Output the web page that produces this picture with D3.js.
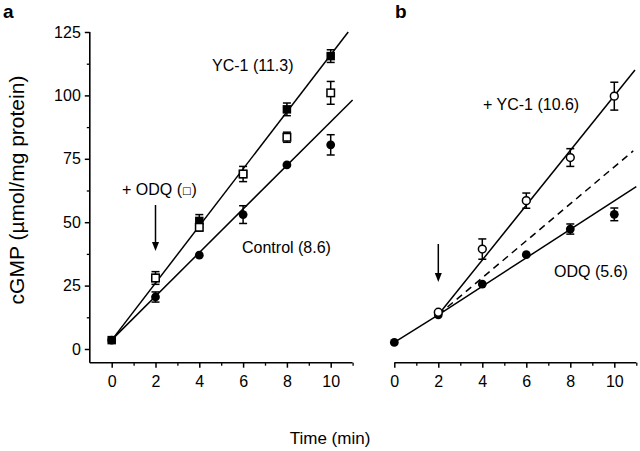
<!DOCTYPE html>
<html><head><meta charset="utf-8">
<script src="https://cdn.jsdelivr.net/npm/d3@7"></script>
<style>body{margin:0;background:#fff}svg{display:block}text{font-family:"Liberation Sans",Arial,sans-serif;fill:#000}</style>
</head><body><svg id="c" width="640" height="451"></svg>
<script>
// ---------- data ----------
const yTicks = [0, 25, 50, 75, 100, 125];
const yMinorTicks = [12.5, 37.5, 62.5, 87.5, 112.5];
const xTicks = [0, 2, 4, 6, 8, 10];
const xMinorTicks = [1, 3, 5, 7, 9, 11];

// panel a
const controlA_t = [0, 2, 4, 6, 8, 10];
const controlA_v = [3.5, 20.5, 37, 53, 72.6, 80.5];
const controlA_e = [0, 2, 0, 3.5, 0, 4];
const yc1A_t = [0, 2, 4, 6, 8, 10];
const yc1A_v = [3.5, 28, 50.5, 69, 94.5, 115.5];
const yc1A_e = [0, 0, 2.5, 0, 2.5, 2.5];
const odqA_t = [2, 4, 6, 8, 10];
const odqA_v = [28, 48, 69, 83.5, 101];
const odqA_e = [2.5, 1.5, 3, 2, 4.5];
const fitYc1A = [[0, 3.5], [10.8, 125]];
const fitControlA = [[0, 3.6], [11, 98.2]];

// panel b
const odqB_t = [0, 2, 4, 6, 8, 10];
const odqB_v = [2.6, 13.5, 25.6, 37.2, 47.3, 53.1];
const odqB_e = [0, 0, 0, 0, 2, 2.5];
const yc1B_t = [2, 4, 6, 8, 10];
const yc1B_v = [14.5, 39.4, 58.5, 75.5, 99.7];
const yc1B_e = [0, 4, 3, 3.5, 5.5];
const fitBaseB = [[0, 2.6], [2, 13.5]];
const fitYc1B = [[2, 13.5], [10.94, 110]];
const fitOdqB = [[2, 13.5], [11, 64]];
const fitDashB = [[2, 13.5], [10.86, 78.1]];

// ---------- scales ----------
const svg = d3.select("#c");
const y = d3.scaleLinear().domain([0, 125]).range([349, 32]);
const yBottom = -5.4;
const xA = d3.scaleLinear().domain([-1, 11]).range([89.8, 352.6]);
const xB = d3.scaleLinear().domain([0, 11]).range([394.3, 636.3]);
const axisY = y(yBottom);

// ---------- axes ----------
function xAxis(x, tickStart) {
  const g = svg.append("g").attr("transform", `translate(0,${axisY})`);
  g.call(d3.axisBottom(x).tickValues(xTicks).tickSize(5).tickPadding(8).tickFormat(d3.format("d")))
   .call(s => s.select(".domain").remove());
  g.selectAll(".tick line").attr("stroke", "#000").attr("stroke-width", 1.5);
  g.selectAll(".tick text").attr("font-size", 16).attr("font-family", "Liberation Sans, Arial, sans-serif");
  const gm = svg.append("g").attr("transform", `translate(0,${axisY})`);
  gm.call(d3.axisBottom(x).tickValues(xMinorTicks).tickSize(3).tickFormat(""))
    .call(s => s.select(".domain").remove());
  gm.selectAll(".tick line").attr("stroke", "#000").attr("stroke-width", 1.3);
  svg.append("line").attr("x1", x(tickStart)).attr("x2", x.range()[1])
     .attr("y1", axisY).attr("y2", axisY).attr("stroke", "#000").attr("stroke-width", 1.6);
}
xAxis(xA, -1);
xAxis(xB, 0);

const ya = svg.append("g").attr("transform", `translate(${xA.range()[0]},0)`);
ya.call(d3.axisLeft(y).tickValues(yTicks).tickSize(5).tickPadding(4))
  .call(s => s.select(".domain").remove());
ya.selectAll(".tick line").attr("stroke", "#000").attr("stroke-width", 1.5);
ya.selectAll(".tick text").attr("font-size", 16).attr("font-family", "Liberation Sans, Arial, sans-serif");
const yam = svg.append("g").attr("transform", `translate(${xA.range()[0]},0)`);
yam.call(d3.axisLeft(y).tickValues(yMinorTicks).tickSize(3).tickFormat(""))
   .call(s => s.select(".domain").remove());
yam.selectAll(".tick line").attr("stroke", "#000").attr("stroke-width", 1.3);
svg.append("line").attr("x1", xA.range()[0]).attr("x2", xA.range()[0])
   .attr("y1", y(125)).attr("y2", axisY).attr("stroke", "#000").attr("stroke-width", 1.6);

// ---------- fit lines ----------
function fit(x, pts, dash) {
  svg.append("path").datum(pts)
    .attr("d", d3.line().x(d => x(d[0])).y(d => y(d[1])))
    .attr("fill", "none").attr("stroke", "#000").attr("stroke-width", 1.5)
    .attr("stroke-dasharray", dash ? "7,5" : null);
}
fit(xA, fitYc1A); fit(xA, fitControlA);
fit(xB, fitBaseB); fit(xB, fitYc1B); fit(xB, fitOdqB); fit(xB, fitDashB, true);

// ---------- points ----------
function series(x, ts, vs, es, shape, filled) {
  const g = svg.append("g");
  ts.forEach((t, i) => {
    const cx = x(t), cy = y(vs[i]), e = es[i];
    if (e > 0) {
      const y1 = y(vs[i] + e), y2 = y(vs[i] - e);
      g.append("line").attr("x1", cx).attr("x2", cx).attr("y1", y1).attr("y2", y2).attr("stroke", "#000").attr("stroke-width", 1.5);
      [y1, y2].forEach(yy => g.append("line").attr("x1", cx - 4).attr("x2", cx + 4).attr("y1", yy).attr("y2", yy).attr("stroke", "#000").attr("stroke-width", 1.5));
    }
    if (shape === "square") {
      const s = filled ? 8.5 : 7.5;
      g.append("rect").attr("x", cx - s / 2).attr("y", cy - s / 2).attr("width", s).attr("height", s)
        .attr("fill", filled ? "#000" : "#fff").attr("stroke", "#000").attr("stroke-width", filled ? 0 : 1.5);
    } else {
      g.append("circle").attr("cx", cx).attr("cy", cy).attr("r", filled ? 4.4 : 3.9)
        .attr("fill", filled ? "#000" : "#fff").attr("stroke", "#000").attr("stroke-width", filled ? 0 : 1.5);
    }
  });
}
series(xA, controlA_t, controlA_v, controlA_e, "circle", true);
series(xA, yc1A_t, yc1A_v, yc1A_e, "square", true);
series(xA, odqA_t, odqA_v, odqA_e, "square", false);
series(xB, odqB_t, odqB_v, odqB_e, "circle", true);
series(xB, yc1B_t, yc1B_v, yc1B_e, "circle", false);

// ---------- arrows ----------
function arrow(xp, y1, y2) {
  svg.append("line").attr("x1", xp).attr("x2", xp).attr("y1", y1).attr("y2", y2 - 7).attr("stroke", "#000").attr("stroke-width", 1.5);
  svg.append("path").attr("d", `M${xp - 3.5},${y2 - 9}L${xp + 3.5},${y2 - 9}L${xp},${y2}Z`).attr("fill", "#000");
}
arrow(xA(2), 205, 251);
arrow(xB(2), 244, 282);

// ---------- texts ----------
function txt(x, yy, s, size, weight) {
  return svg.append("text").attr("x", x).attr("y", yy).attr("font-size", size).attr("font-weight", weight || "normal").text(s);
}
txt(3, 18, "a", 19, "bold");
txt(395, 18, "b", 19, "bold");
txt(212, 71, "YC-1 (11.3)", 16);
const odqT = svg.append("text").attr("x", 122).attr("y", 195).attr("font-size", 16);
odqT.append("tspan").text("+ ODQ (");
odqT.append("tspan").attr("font-size", 10).attr("font-family", "DejaVu Sans").attr("dy", -1).text("□");
odqT.append("tspan").attr("dy", 1).text(")");
txt(242, 253, "Control (8.6)", 16);
txt(483, 110, "+ YC-1 (10.6)", 16);
txt(554, 277, "ODQ (5.6)", 16);
txt(330, 444, "Time (min)", 17).attr("text-anchor", "middle");
svg.append("text").attr("transform", "translate(24,190) rotate(-90)").attr("text-anchor", "middle")
   .attr("font-size", 21).text("cGMP (µmol/mg protein)");
</script></body></html>
